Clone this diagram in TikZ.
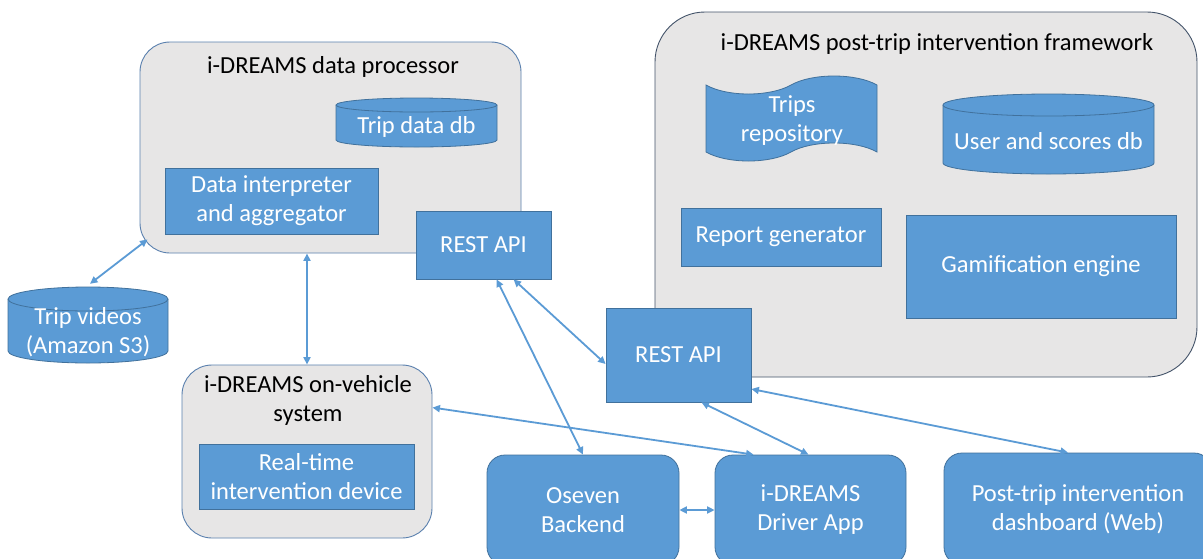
\documentclass[tikz,border=0pt]{standalone}
\usepackage{fontspec}
\setmainfont{Carlito}
\usetikzlibrary{arrows.meta,calc}
\definecolor{boxblue}{HTML}{5B9BD5}
\definecolor{boxedge}{HTML}{41719C}
\definecolor{contfill}{HTML}{E7E6E6}
\definecolor{contedge}{HTML}{5A80AE}
\definecolor{fwedge}{HTML}{44546A}
\definecolor{arrowblue}{HTML}{5B9BD5}
\newcommand{\dbshape}[5]{%
  \pgfmathsetmacro\dbrx{(#2-#1)/2}%
  \filldraw[dbstyle] (#1,#3+#5) -- (#1,#4-#5)
    arc[start angle=180,end angle=0,x radius=\dbrx,y radius=#5]
    -- (#2,#3+#5)
    arc[start angle=0,end angle=-180,x radius=\dbrx,y radius=#5] -- cycle;
  \draw[dbstyle] (#1,#3+#5) arc[start angle=180,end angle=0,x radius=\dbrx,y radius=#5];
}
\begin{document}
\begin{tikzpicture}[x=1pt,y=-1pt,
  font=\fontsize{24.5}{29}\selectfont,
  container/.style={draw=contedge, fill=contfill, line width=0.9pt, rounded corners=30pt, inner sep=0pt},
  bluebox/.style={draw=boxedge, fill=boxblue, text=white, line width=0.8pt, align=center, inner sep=0pt},
  roundbox/.style={bluebox, rounded corners=18pt},
  dbstyle/.style={draw=boxedge, fill=boxblue, line width=0.8pt},
  plaintext/.style={text=white, align=center, inner sep=0pt},
  titletext/.style={text=black, align=center, inner sep=0pt},
  link/.style={draw=arrowblue, line width=1.8pt, {Triangle[length=7.5pt,width=7pt]}-{Triangle[length=7.5pt,width=7pt]}}
]
\useasboundingbox (0,0) rectangle (1203,558);
\clip (0,0) rectangle (1203,558);
\fill[white] (0,0) rectangle (1203,558);

% containers
\node[container, minimum width=381pt, minimum height=211pt] (dp) at (330.5,147.5) {};
\node[titletext] (dptitle) at (333,67) {i-DREAMS data processor};
\node[container, draw=fwedge, rounded corners=50pt, minimum width=542pt, minimum height=365pt] (fw) at (926,194.5) {};
\node[titletext] (fwtitle) at (937,44) {i-DREAMS post-trip intervention framework};
\node[container, minimum width=250pt, minimum height=173pt] (onv) at (307,451.5) {};
\node[titletext] (onvtitle) at (308,400) {i-DREAMS on-vehicle\\system};

% data processor content
\dbshape{336}{497}{98}{147}{7}
\node[plaintext] (tripdb) at (416.5,127) {Trip data db};
\node[bluebox, minimum width=213pt, minimum height=66pt] (interp) at (271.5,201) {Data interpreter\\and aggregator};
\node[bluebox, minimum width=135pt, minimum height=68pt] (rest1) at (483.5,245) {REST API};

% framework content
\filldraw[dbstyle] (706,85) .. controls (727,97) and (770,97) .. (791,85)
  .. controls (812,73) and (856,73) .. (877,85) -- (877,152)
  .. controls (856,140) and (812,140) .. (791,152)
  .. controls (770,164) and (727,164) .. (706,152) -- cycle;
\node[plaintext] (trips) at (792,121) {Trips\\repository};
\dbshape{943}{1154}{94}{174}{11}
\node[plaintext] (usersdb) at (1048.5,141) {User and scores db};
\node[bluebox, minimum width=200pt, minimum height=58pt] (report) at (781,237) {Report generator};
\node[bluebox, minimum width=270pt, minimum height=103pt] (gamif) at (1041,266.5) {Gamification engine};
\node[bluebox, minimum width=145pt, minimum height=94pt] (rest2) at (678.5,355) {REST API};

% trip videos
\dbshape{8}{168}{287}{363}{12}
\node[plaintext, minimum width=160pt, minimum height=90pt] (tv) at (88,332) {Trip videos\\(Amazon S3)};

% on-vehicle content
\node[bluebox, minimum width=215pt, minimum height=65pt] (rt) at (306.5,476.5) {Real-time\\intervention device};

% bottom row
\node[roundbox, minimum width=192pt, minimum height=110pt] (oseven) at (583,510) {Oseven\\Backend};
\node[roundbox, minimum width=191pt, minimum height=110pt] (drv) at (810.5,510) {i-DREAMS\\Driver App};
\node[roundbox, minimum width=268pt, minimum height=112pt] (dash) at (1078,509) {Post-trip intervention\\dashboard (Web)};

% connectors
\draw[link] ($(dp.south west)+(8,-14)$) -- ($(tv.north)+(2,-3)$);
\draw[link] (dp.south -| onv.north) -- (onv.north);
\draw[link] ($(rest1.south west)+(81,0)$) -- (oseven.north);
\draw[link] ($(rest1.south west)+(98,0)$) -- ($(rest2.west)+(0,9)$);
\draw[link] ($(onv.north east)+(0,43)$) -- ($(drv.north west)+(39,0)$);
\draw[link] ($(rest2.south)+(23,0)$) -- ($(drv.north)+(-2,0)$);
\draw[link] ($(rest2.east)+(0,34)$) -- ($(dash.north)+(-10,0)$);
\draw[link] (oseven.east) -- (drv.west);
\end{tikzpicture}
\end{document}
